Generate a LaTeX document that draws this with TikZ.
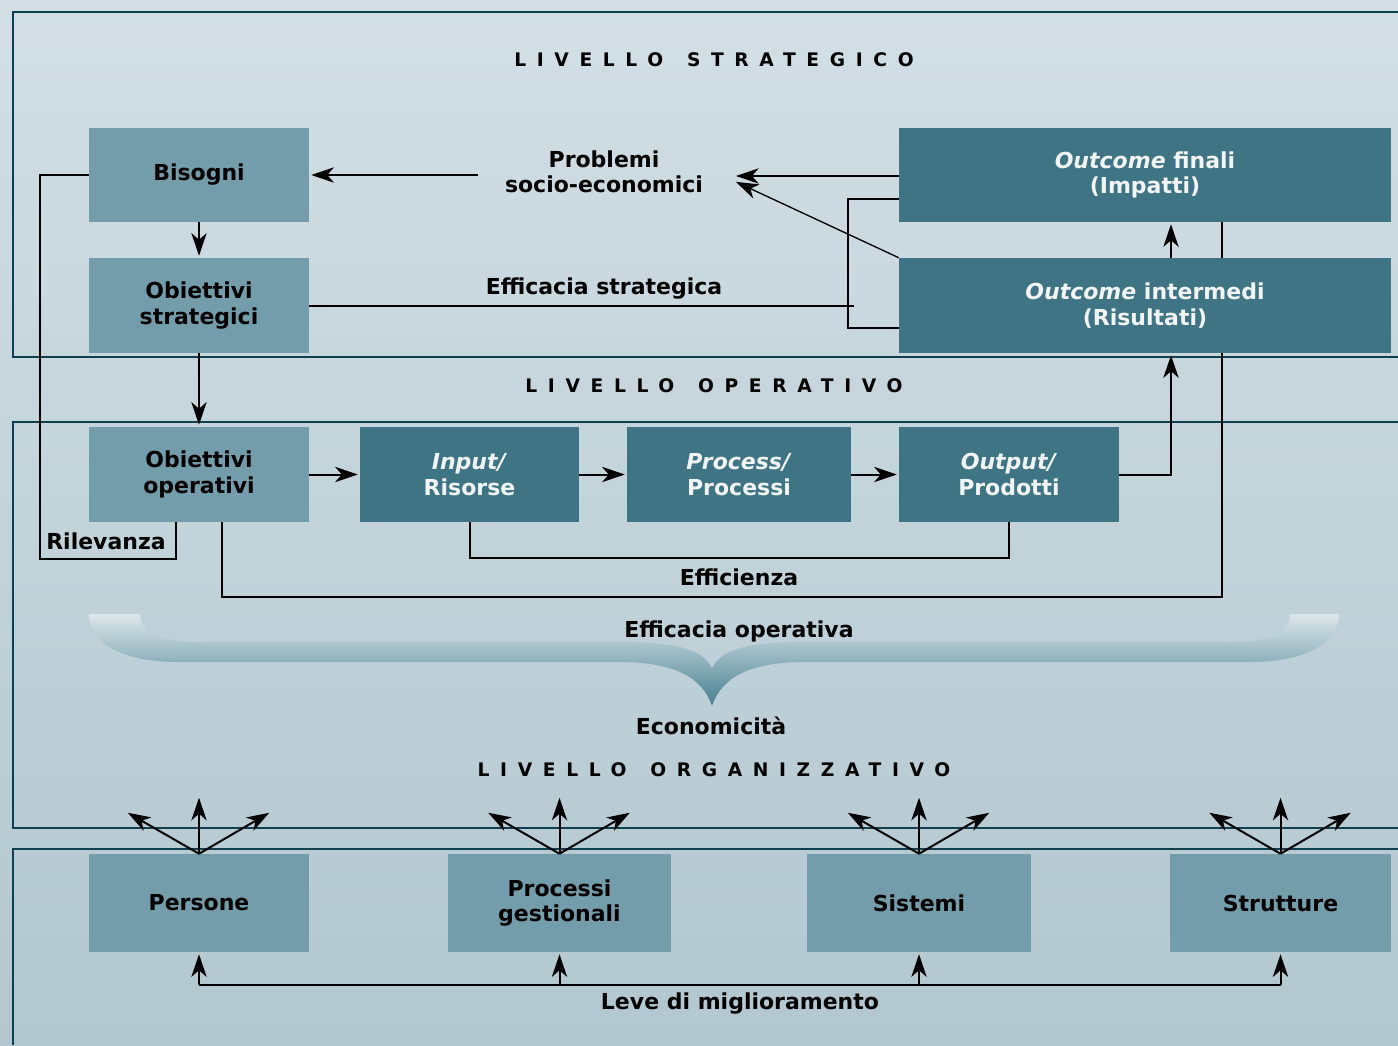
\documentclass[tikz,border=0pt]{standalone}
\usepackage{fontspec}
\setmainfont{DejaVu Sans}
\newfontfamily\ttlfam{DejaVu Sans}[LetterSpace=57]
\usetikzlibrary{arrows.meta,calc}
\definecolor{bgtop}{HTML}{D3DFE5}
\definecolor{bgbot}{HTML}{B2C7CF}
\definecolor{lboxc}{HTML}{739DAB}
\definecolor{dboxc}{HTML}{3E7483}
\definecolor{framec}{HTML}{0E4050}
\definecolor{wtext}{HTML}{F2F5F6}
\definecolor{bracetop}{HTML}{DCE6EA}
\definecolor{bracebot}{HTML}{467F90}
\newcommand\bxfont{\fontsize{16.5pt}{19pt}\selectfont\bfseries}
\newcommand\ttlfont{\fontsize{14pt}{16pt}\selectfont\ttlfam\bfseries}
\begin{document}
\begin{tikzpicture}[x=0.75pt,y=-0.75pt,
  lbox/.style={fill=lboxc, inner sep=0pt, font=\bxfont, text=black, align=center},
  dbox/.style={fill=dboxc, inner sep=0pt, font=\bxfont, text=wtext, align=center},
  sz/.style 2 args={minimum width=#1, minimum height=#2},
  lab/.style={font=\bxfont, text=black, align=center, inner sep=0pt},
  ttl/.style={font=\ttlfont, text=black, inner sep=0pt},
  line/.style={draw=black, line width=1.5pt},
  arr/.style={line, -{Stealth[length=17pt,width=11.5pt,inset=5pt]}, shorten >=1.5pt},
  frame/.style={draw=framec, line width=1.8pt}]
\useasboundingbox (0,0) rectangle (1398,1045);
\shade[top color=bgtop, bottom color=bgbot] (0,0) rectangle (1398,1045);

% frames
\draw[frame] (1398,12) -- (13,12) -- (13,357) -- (1398,357);
\draw[frame] (1398,422) -- (13,422) -- (13,828) -- (1398,828);
\draw[frame] (1398,849) -- (13,849) -- (13,1045);

% titles
\node[ttl] (t1) at (714,60) {LIVELLO\hspace{5pt} STRATEGICO};
\node[ttl] (t2) at (714,386) {LIVELLO\hspace{5pt} OPERATIVO};
\node[ttl] (t3) at (714,770) {LIVELLO\hspace{5pt} ORGANIZZATIVO};

% strategic level
\node[lbox, sz={165pt}{70.5pt}] (bis) at (199,175) {Bisogni};
\node[lbox, sz={165pt}{71.25pt}] (os) at (199,305.5) {Obiettivi\\strategici};
\node[dbox, sz={369pt}{70.5pt}] (of) at (1145,175) {\textit{Outcome} finali\\(Impatti)};
\node[dbox, sz={369pt}{71.25pt}] (oi) at (1145,305.5) {\textit{Outcome} intermedi\\(Risultati)};
\node[lab] (prob) at (604,172) {Problemi\\socio-economici};
\coordinate (pw) at (478,175);
\coordinate (pe) at (734,176);
\coordinate (pd) at (734,181);
\coordinate (br) at (848,328);
\node[lab] (effs) at (604,289) {Efficacia strategica};

% operative level
\node[lbox, sz={165pt}{71.25pt}] (oo) at (199,474.5) {Obiettivi\\operativi};
\node[dbox, sz={164.25pt}{71.25pt}] (inp) at (469.5,474.5) {\textit{Input/}\\Risorse};
\node[dbox, sz={168pt}{71.25pt}] (proc) at (739,474.5) {\textit{Process/}\\Processi};
\node[dbox, sz={165pt}{71.25pt}] (out) at (1009,474.5) {\textit{Output/}\\Prodotti};
\node[lab, anchor=west] (ril) at (46,541) {Rilevanza};
\node[lab] (effi) at (739,577) {Efficienza};
\node[lab] (effo) at (739,631) {Efficacia operativa};
\node[lab] (eco) at (711,726) {Economicità};

% organisational level
\node[lbox, sz={165pt}{73.5pt}] (per) at (199,903) {Persone};
\node[lbox, sz={167.25pt}{73.5pt}] (pg) at (559.5,903) {Processi\\gestionali};
\node[lbox, sz={168pt}{73.5pt}] (sis) at (919,903) {Sistemi};
\node[lbox, sz={165.75pt}{73.5pt}] (str) at (1280.5,903) {Strutture};
\node[lab] (leve) at (740,1004) {Leve di miglioramento};
\coordinate (lv) at (740,985);

% brace
\shade[top color=bracetop, bottom color=bracebot]
  (89,614) -- (140,614) .. controls (140,636) and (165,642) .. (205,642)
  -- (630,642) .. controls (685,643) and (703,652) .. (712,668)
  .. controls (721,652) and (739,643) .. (794,642)
  -- (1225,642) .. controls (1265,642) and (1290,636) .. (1290,614)
  -- (1339,614) .. controls (1339,646) and (1300,662) .. (1250,662)
  -- (805,662) .. controls (752,662) and (722,676) .. (712,706)
  .. controls (702,676) and (672,662) .. (619,662)
  -- (178,662) .. controls (128,662) and (89,646) .. (89,614) -- cycle;

% strategic connectors
\draw[arr] (pw) -- (bis.east |- pw);
\draw[arr] (of.west |- pe) -- (pe);
\draw[arr, line width=1pt] (oi.north west) -- (pd);
\draw[arr] (bis.south) -- (os.north);
\draw[line] ([yshift=-18pt]of.west) -| (br) -- (oi.west |- br);
\draw[line] (os.east) -- (os.east -| 854,0);
\draw[arr] ([xshift=19.5pt]oi.north) -- ([xshift=19.5pt]of.south);
\draw[line] ([xshift=57.75pt]of.south) -- ([xshift=57.75pt]oi.north);

% operative connectors
\draw[arr] (os.south) -- (oo.north);
\draw[arr] (oo.east) -- (inp.west);
\draw[arr] (inp.east) -- (proc.west);
\draw[arr] (proc.east) -- (out.west);
\draw[arr] (out.east) -| ([xshift=19.5pt]oi.south);
\draw[line] (bis.west) -| (40,559) -| ([xshift=-17.25pt]oo.south);
\draw[line] (inp.south) -- ++(0,36) -| (out.south);
\draw[line] ([xshift=57.75pt]oi.south) |- (222,597) -- ([xshift=17.25pt]oo.south);

% fans
\foreach \b in {per,pg,sis,str}{
  \draw[arr] (\b.north) -- ++(0,-58);
  \draw[arr] (\b.north) -- ++(-73,-42);
  \draw[arr] (\b.north) -- ++(72,-42);
  \draw[arr] (\b.south |- lv) -- (\b.south);
}
\draw[line] (per.south |- lv) -- (str.south |- lv);
\end{tikzpicture}
\end{document}
